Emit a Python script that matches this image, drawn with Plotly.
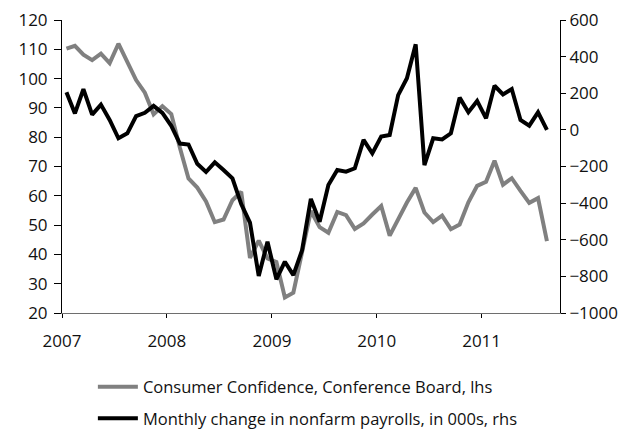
import plotly.graph_objects as go

months = [f"{y}-{m:02d}" for y in range(2007, 2012) for m in range(1, 13)][:56]

consumer_confidence = [
    110.2, 111.2, 108.2, 106.3, 108.5, 105.3, 111.9, 105.6, 99.5, 95.2, 87.8, 90.6,
    87.9, 76.4, 65.9, 62.8, 58.1, 51.0, 51.9, 58.5, 61.4, 38.8, 44.7, 38.6,
    37.4, 25.3, 26.9, 40.8, 54.8, 49.3, 47.4, 54.5, 53.4, 48.7, 50.6, 53.6,
    56.5, 46.4, 52.3, 57.7, 62.7, 54.3, 51.0, 53.2, 48.6, 50.2, 57.8, 63.4,
    64.8, 72.0, 63.8, 66.0, 61.7, 57.6, 59.2, 44.5,
]

payrolls = [
    205, 90, 222, 83, 138, 54, -46, -19, 75, 93, 131, 93,
    22, -75, -80, -185, -230, -177, -219, -265, -405, -506, -798, -611,
    -816, -720, -793, -657, -377, -502, -301, -219, -228, -210, -55, -128,
    -37, -28, 190, 282, 467, -192, -46, -52, -19, 176, 96, 158,
    63, 241, 194, 223, 54, 23, 96, 0,
]

year_ticks = ["2007-01-01", "2008-01-01", "2009-01-01", "2010-01-01", "2011-01-01"]
year_labels = ["2007", "2008", "2009", "2010", "2011"]
left_ticks = list(range(20, 121, 10))
right_ticks = list(range(-1000, 601, 200))

FONT = "Open Sans"
xr = ["2007-01-01", "2011-10-01"]

fig = go.Figure()
fig.add_trace(go.Scatter(
    x=months, y=consumer_confidence, mode="lines",
    name="Consumer Confidence, Conference Board, lhs",
    line=dict(color="#808080", width=4),
    xperiod="M1", xperiodalignment="middle",
    legendgroup="a",
))
fig.add_trace(go.Scatter(
    x=months, y=payrolls, mode="lines",
    name="Monthly change in nonfarm payrolls, in 000s, rhs",
    line=dict(color="#000000", width=4),
    xperiod="M1", xperiodalignment="middle",
    yaxis="y2", legendgroup="b",
))

fig.update_layout(
    width=633, height=432,
    margin=dict(l=62, r=73, t=20, b=119, autoexpand=False),
    paper_bgcolor="white", plot_bgcolor="white",
    font=dict(family=FONT, size=17, color="#111111"),
    showlegend=True,
    legend=dict(
        x=0.062, y=-0.193, xanchor="left", yanchor="top",
        orientation="v", tracegroupgap=7,
        font=dict(size=16.5), itemwidth=40,
    ),
    xaxis=dict(
        type="date", range=xr, tickvals=year_ticks, ticktext=year_labels,
        showgrid=False, zeroline=False, showline=True, linecolor="#6e6e6e",
        linewidth=1, ticks="outside", ticklen=4, tickcolor="#000",
        ticklabelstandoff=9,
    ),
    xaxis2=dict(
        type="date", range=xr, tickvals=year_ticks, overlaying="x",
        anchor="y", side="bottom", showticklabels=False, showgrid=False,
        zeroline=False, showline=False, ticks="inside", ticklen=6, tickcolor="#000",
    ),
    yaxis=dict(
        range=[20, 120], tickvals=left_ticks, showgrid=False, zeroline=False,
        showline=True, linecolor="#000", linewidth=1, ticks="outside",
        ticklen=7, tickcolor="#000", ticklabelstandoff=3,
    ),
    yaxis2=dict(
        range=[-1000, 600], tickvals=right_ticks, overlaying="y", side="right",
        anchor="x", showgrid=False, zeroline=False, showline=True,
        linecolor="#000", linewidth=1, ticks="outside", ticklen=5, tickcolor="#000",
    ),
    yaxis3=dict(
        range=[20, 120], tickvals=left_ticks, overlaying="y", side="left",
        anchor="x", showticklabels=False, showgrid=False, zeroline=False,
        showline=False, ticks="inside", ticklen=6, tickcolor="#000",
    ),
    yaxis4=dict(
        range=[-1000, 600], tickvals=right_ticks, overlaying="y", side="right",
        anchor="x", showticklabels=False, showgrid=False, zeroline=False,
        showline=False, ticks="inside", ticklen=6, tickcolor="#000",
    ),
)

fig.write_html("out.html")
